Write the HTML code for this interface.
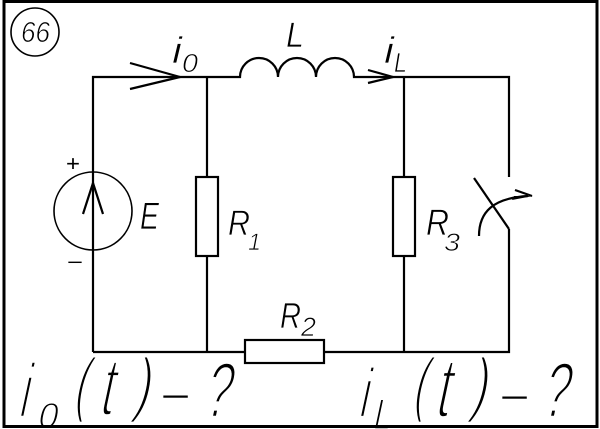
<!DOCTYPE html>
<html>
<head>
<meta charset="utf-8">
<style>
html,body{margin:0;padding:0;background:#fff;width:600px;height:429px;overflow:hidden}
svg{display:block}
</style>
</head>
<body>
<svg width="600" height="429" viewBox="0 0 600 429" xmlns="http://www.w3.org/2000/svg">
<rect x="0" y="0" width="600" height="429" fill="#fff"/>
<g fill="none" stroke="#000" stroke-width="2.2">
<path d="M93,352 V77 H240 A19,19 0 0 1 278,77 A19,19 0 0 1 316,77 A19,19 0 0 1 354,77 H509 V177"/>
<path d="M509,229 V352 H324 M245,352 H93"/>
<path d="M474,178 L509,229"/>
<path d="M207,77 V177 M207,256 V352 M404,77 V177 M404,256 V352"/>
<rect x="196" y="177" width="22" height="79"/>
<rect x="393" y="177" width="22" height="79"/>
<rect x="245" y="340" width="79" height="23"/>
<path d="M130,63 L180,77 L130,89 M368,70 L393,77 L368,83"/>
<path d="M83,214 L93,183 L103,214"/>
<path d="M479,236 C479,212 493,198 528,196"/>
<path d="M515,190 L532,196"/>
</g>
<g fill="none" stroke="#000" stroke-width="1.6">
<circle cx="93" cy="211" r="39"/>
<circle cx="35" cy="32" r="24"/>
</g>
<path d="M514,196 L533,196 L512,200 Z" fill="#000"/>

<g font-family="'Liberation Sans', sans-serif" font-style="italic" fill="#000" stroke="#fff" stroke-width="0.7">
<text x="21" y="42" font-size="29" textLength="29" lengthAdjust="spacingAndGlyphs">66</text>
<text x="172" y="63" font-size="37" textLength="10" lengthAdjust="spacingAndGlyphs">i</text>
<text x="182" y="72" font-size="26" textLength="16" lengthAdjust="spacingAndGlyphs">0</text>
<text x="286" y="47" font-size="35" textLength="18" lengthAdjust="spacingAndGlyphs">L</text>
<text x="384" y="63" font-size="37" textLength="10" lengthAdjust="spacingAndGlyphs">i</text>
<text x="394" y="72" font-size="28" textLength="13" lengthAdjust="spacingAndGlyphs">L</text>
<text x="140" y="229" font-size="38" textLength="19" lengthAdjust="spacingAndGlyphs">E</text>
<text x="228" y="235" font-size="35" textLength="22" lengthAdjust="spacingAndGlyphs">R</text>
<text x="248" y="250" font-size="24" textLength="13" lengthAdjust="spacingAndGlyphs">1</text>
<text x="426" y="235" font-size="37" textLength="23" lengthAdjust="spacingAndGlyphs">R</text>
<text x="444" y="251" font-size="25" textLength="16" lengthAdjust="spacingAndGlyphs">3</text>
<text x="280" y="328" font-size="36" textLength="21" lengthAdjust="spacingAndGlyphs">R</text>
<text x="301" y="336" font-size="27" textLength="15" lengthAdjust="spacingAndGlyphs">2</text>
</g>
<g font-family="'Liberation Sans', sans-serif" fill="#000">
<text x="66" y="171" font-size="22" textLength="14" lengthAdjust="spacingAndGlyphs">+</text>
<text x="67" y="269" font-size="20" textLength="16" lengthAdjust="spacingAndGlyphs">−</text>
</g>

<g font-family="'Liberation Sans', sans-serif" font-style="normal" fill="#000" font-size="36" stroke="#fff" stroke-width="1.2">
<text transform="translate(17.6,417) skewX(-12) scale(1.1,2.13)">i</text>
<text transform="translate(36.5,428) skewX(-12)">0</text>
<text transform="translate(72.5,408) skewX(-12) scale(1.15,1.98)">(</text>
<text transform="translate(98,415) skewX(-12) scale(1.3,2.3)">t</text>
<text transform="translate(132,408) skewX(-12) scale(1.4,1.98)">)</text>
<text transform="translate(202,417) skewX(-12) scale(1.3,2.17)">?</text>

<text transform="translate(357.6,417) skewX(-12) scale(1.1,1.94)">i</text>
<text transform="translate(372,429) skewX(-12) scale(0.85,1.2)">L</text>
<text transform="translate(411.5,408) skewX(-12) scale(1.15,1.98)">(</text>
<text transform="translate(433.5,417) skewX(-12) scale(1.4,2.38)">t</text>
<text transform="translate(469,408) skewX(-12) scale(1.4,1.98)">)</text>
<text transform="translate(540,417) skewX(-12) scale(1.3,2.17)">?</text>
</g>
<g font-family="'Liberation Sans', sans-serif" fill="#000" font-size="40" stroke="#fff" stroke-width="0.6">
<text transform="translate(160.4,410) scale(1.3,1)">−</text>
<text transform="translate(499.4,411) scale(1.3,1)">−</text>
</g>
<rect x="4" y="1.5" width="593" height="425" fill="none" stroke="#000" stroke-width="3"/>
</svg>
</body>
</html>
